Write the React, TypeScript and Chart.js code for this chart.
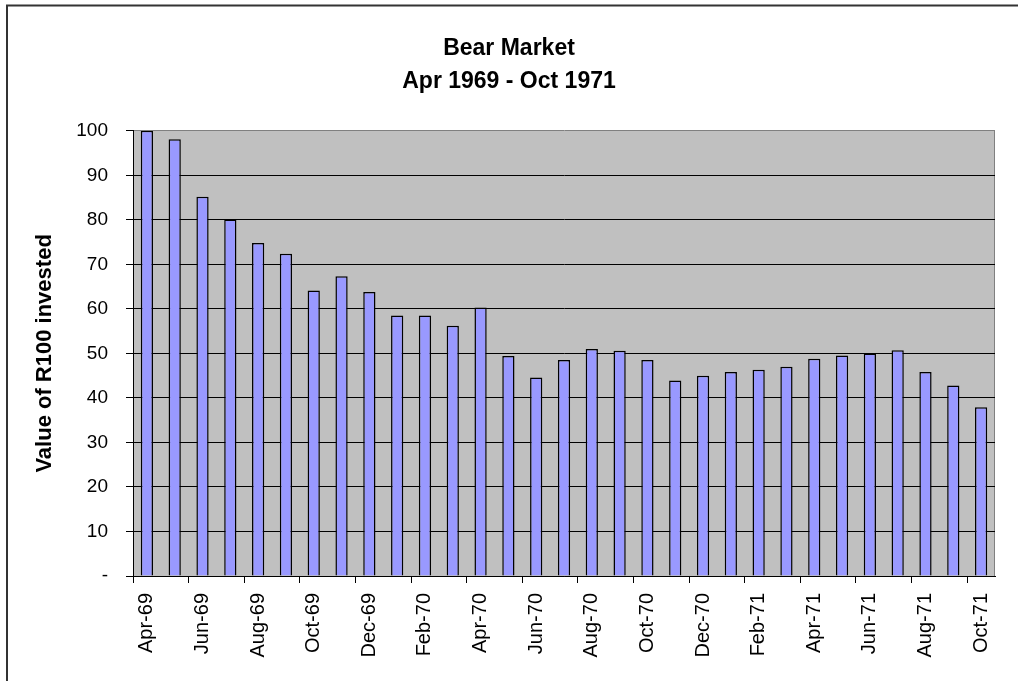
import React, { useEffect, useRef } from "react";
import { Chart, registerables } from "chart.js";

Chart.register(...registerables);

const categories = [
  "Apr-69", "May-69", "Jun-69", "Jul-69", "Aug-69", "Sep-69", "Oct-69", "Nov-69", "Dec-69",
  "Jan-70", "Feb-70", "Mar-70", "Apr-70", "May-70", "Jun-70", "Jul-70", "Aug-70", "Sep-70",
  "Oct-70", "Nov-70", "Dec-70", "Jan-71", "Feb-71", "Mar-71", "Apr-71", "May-71", "Jun-71",
  "Jul-71", "Aug-71", "Sep-71", "Oct-71",
];

const values = [
  100, 98.1, 85.2, 80.1, 74.8, 72.4, 64.1, 67.3, 63.8, 58.5, 58.5, 56.2, 60.3, 49.4, 44.6,
  48.5, 51.0, 50.6, 48.5, 43.9, 45.0, 45.8, 46.3, 47.0, 48.8, 49.5, 50.0, 50.7, 45.8, 42.8, 37.9,
];

const titleLines = ["Bear Market", "Apr 1969 - Oct 1971"];
const yAxisTitle = "Value of R100 invested";

const FONT = "'Liberation Sans', Arial, Helvetica, sans-serif";

const frame = {
  id: "frame",
  beforeDraw(chart: any) {
    const { ctx, chartArea } = chart;
    ctx.save();
    ctx.fillStyle = "#ffffff";
    ctx.fillRect(0, 0, chart.width, chart.height);
    ctx.fillStyle = "#C0C0C0";
    ctx.fillRect(chartArea.left, chartArea.top, chartArea.right - chartArea.left, chartArea.bottom - chartArea.top);
    ctx.strokeStyle = "#808080";
    ctx.lineWidth = 1;
    ctx.beginPath();
    ctx.moveTo(chartArea.right - 0.5, chartArea.top);
    ctx.lineTo(chartArea.right - 0.5, chartArea.bottom);
    ctx.stroke();
    ctx.restore();
  },
  afterDraw(chart: any) {
    const { ctx } = chart;
    ctx.save();
    ctx.strokeStyle = "#333333";
    ctx.lineWidth = 2;
    ctx.strokeRect(7, 5.5, 1200, 1000);
    ctx.restore();
  },
};

export default function App() {
  const ref = useRef<HTMLCanvasElement | null>(null);

  useEffect(() => {
    if (!ref.current) return;
    const chart = new Chart(ref.current, {
      type: "bar",
      data: {
        labels: categories,
        datasets: [
          {
            data: values,
            backgroundColor: "#9999FF",
            borderColor: "#000000",
            borderWidth: 1.5,
            barPercentage: 0.44,
            categoryPercentage: 1,
          },
        ],
      },
      options: {
        animation: false,
        responsive: true,
        maintainAspectRatio: false,
        layout: { padding: { left: 23, right: 23, top: 0, bottom: 0 } },
        plugins: {
          legend: { display: false },
          tooltip: { enabled: false },
          title: {
            display: true,
            text: titleLines,
            color: "#000000",
            font: { family: FONT, size: 23, weight: "bold", lineHeight: 1.43 },
            padding: { top: 32.5, bottom: 32.5 },
          },
        },
        scales: {
          x: {
            offset: true,
            grid: {
              offset: true,
              drawOnChartArea: false,
              drawTicks: true,
              tickLength: 7,
              tickColor: (ctx: any) =>
                typeof ctx.index === "number" && ctx.index % 2 === 0 ? "#000000" : "rgba(0,0,0,0)",
            },
            border: { display: true, color: "#000000", width: 1 },
            ticks: {
              autoSkip: false,
              minRotation: 90,
              maxRotation: 90,
              padding: 10,
              color: "#000000",
              font: { family: FONT, size: 20 },
              callback: (_v: any, i: number) => (i % 2 === 0 ? categories[i] : ""),
            },
            afterFit: (scale: any) => {
              scale.height = 105;
            },
          },
          y: {
            min: 0,
            max: 100,
            ticks: {
              stepSize: 10,
              padding: 18,
              color: "#000000",
              font: { family: FONT, size: 19 },
              callback: (v: any) => (Number(v) === 0 ? "-" : String(v)),
            },
            grid: {
              color: (ctx: any) => (ctx.tick && ctx.tick.value === 100 ? "#808080" : "#000000"),
              lineWidth: 1,
              drawTicks: true,
              tickLength: 7,
              tickColor: "#000000",
            },
            border: { display: true, color: "#000000", width: 1 },
            title: {
              display: true,
              text: yAxisTitle,
              color: "#000000",
              font: { family: FONT, size: 22, weight: "bold" },
              padding: { top: 9, bottom: 0 },
            },
            afterFit: (scale: any) => {
              scale.width = 110;
            },
          },
        },
      },
      plugins: [frame],
    });
    return () => chart.destroy();
  }, []);

  return (
    <div style={{ position: "fixed", left: 0, top: 0, width: 1018, height: 681, background: "#fff" }}>
      <canvas ref={ref} />
    </div>
  );
}
